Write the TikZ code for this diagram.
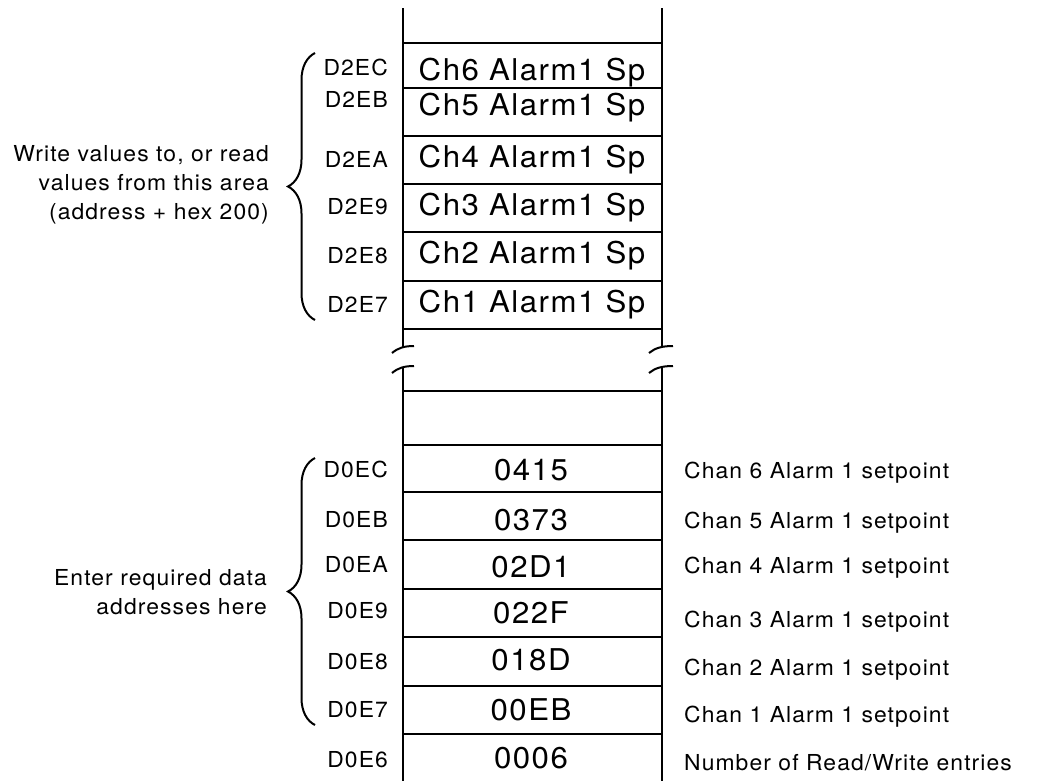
\documentclass[tikz,border=0pt]{standalone}
\usepackage{fontspec}
\setmainfont[FakeStretch=1.04, LetterSpace=5]{TeX Gyre Heros}
\usetikzlibrary{decorations.pathreplacing}

\tikzset{
  cellText/.style={inner sep=0pt, anchor=base, font=\fontsize{30}{35}\selectfont},
  addrLabel/.style={inner sep=0pt, anchor=base east, font=\fontsize{22}{26}\selectfont},
  descText/.style={inner sep=0pt, anchor=base west, font=\fontsize{22}{26}\selectfont},
  sideNote/.style={inner sep=0pt, anchor=east, align=right, font=\fontsize{22}{29}\selectfont},
  breakMark/.style={line width=2pt},
  bigBrace/.style={line width=2pt, decorate, decoration={brace, amplitude=27pt}}
}

\begin{document}
\begin{tikzpicture}[x=1pt, y=-1pt, line width=2.3pt]
      \useasboundingbox (0,0) rectangle (1037,780);
      \draw (403,8) -- (403,347);
      \draw (662,8) -- (662,347);
      \draw (403,367) -- (403,782);
      \draw (662,367) -- (662,782);
      \draw[breakMark] (392,353) .. controls (398,348) and (404,346) .. (414,346);
      \draw[breakMark] (392,373) .. controls (398,368) and (404,366) .. (414,366);
      \draw[breakMark] (649,353) .. controls (655,348) and (662,346) .. (673,346);
      \draw[breakMark] (649,373) .. controls (655,368) and (662,366) .. (673,366);
      \draw (403,43) -- (662,43);
      \draw (403,88) -- (662,88);
      \draw (403,136) -- (662,136);
      \draw (403,184) -- (662,184);
      \draw (403,232) -- (662,232);
      \draw (403,281) -- (662,281);
      \draw (403,329) -- (662,329);
      \draw (403,391) -- (662,391);
      \draw (403,445) -- (662,445);
      \draw (403,492) -- (662,492);
      \draw (403,540) -- (662,540);
      \draw (403,589) -- (662,589);
      \draw (403,637) -- (662,637);
      \draw (403,686) -- (662,686);
      \draw (403,734) -- (662,734);
      \node[addrLabel] (a2ec) at (389,75) {D2EC};
      \node[addrLabel] (a2eb) at (389,107) {D2EB};
      \node[addrLabel] (a2ea) at (389,167) {D2EA};
      \node[addrLabel] (a2e9) at (389,214) {D2E9};
      \node[addrLabel] (a2e8) at (389,263) {D2E8};
      \node[addrLabel] (a2e7) at (389,312) {D2E7};
      \node[cellText] (sp6) at (532,80) {Ch6 Alarm1 Sp};
      \node[cellText] (sp5) at (532,115) {Ch5 Alarm1 Sp};
      \node[cellText] (sp4) at (532,167) {Ch4 Alarm1 Sp};
      \node[cellText] (sp3) at (532,215) {Ch3 Alarm1 Sp};
      \node[cellText] (sp2) at (532,263) {Ch2 Alarm1 Sp};
      \node[cellText] (sp1) at (532,312) {Ch1 Alarm1 Sp};
      \node[addrLabel] (a0ec) at (389,477) {D0EC};
      \node[addrLabel] (a0eb) at (389,527) {D0EB};
      \node[addrLabel] (a0ea) at (389,572) {D0EA};
      \node[addrLabel] (a0e9) at (389,618) {D0E9};
      \node[addrLabel] (a0e8) at (389,669) {D0E8};
      \node[addrLabel] (a0e7) at (389,717) {D0E7};
      \node[addrLabel] (a0e6) at (389,767) {D0E6};
      \node[cellText] (v6) at (531,480) {0415};
      \node[cellText] (v5) at (531,530) {0373};
      \node[cellText] (v4) at (531,577) {02D1};
      \node[cellText] (v3) at (531,623) {022F};
      \node[cellText] (v2) at (531,670) {018D};
      \node[cellText] (v1) at (531,720) {00EB};
      \node[cellText] (v0) at (531,768) {0006};
      \node[descText] (d6) at (683,478) {Chan 6 Alarm 1 setpoint};
      \node[descText] (d5) at (683,528) {Chan 5 Alarm 1 setpoint};
      \node[descText] (d4) at (683,573) {Chan 4 Alarm 1 setpoint};
      \node[descText] (d3) at (683,627) {Chan 3 Alarm 1 setpoint};
      \node[descText] (d2) at (683,675) {Chan 2 Alarm 1 setpoint};
      \node[descText] (d1) at (683,722) {Chan 1 Alarm 1 setpoint};
      \node[descText] (d0) at (683,770) {Number of Read/Write entries};
      \draw[bigBrace] (315,320) -- (315,53);
      \draw[bigBrace] (315,725) -- (315,458);
      \node[sideNote] (upnote) at (270,185) {Write values to, or read\\values from this area\\(address + hex 200)};
      \node[sideNote] (lownote) at (268,592) {Enter required data\\addresses here};
\end{tikzpicture}
\end{document}
